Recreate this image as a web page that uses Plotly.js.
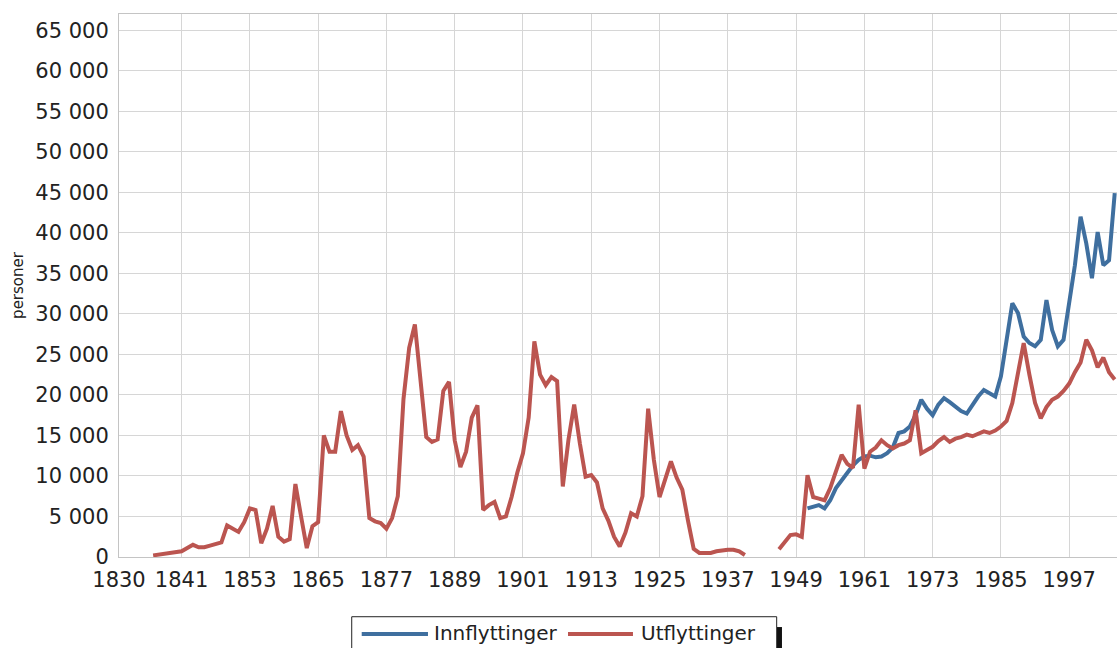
<!DOCTYPE html>
<html>
<head>
<meta charset="utf-8">
<script src="https://cdn.plot.ly/plotly-3.0.1.min.js"></script>
<style>
    html, body { margin: 0; padding: 0; background: #fff; }
    #chart { width: 1117px; height: 648px; }
</style>
</head>
<body>
<div id="chart"></div>
<script>
// Inn- og utflyttinger, personer per år

const utStart = 1836;
const utflyttinger = [
    200, 300, 400, 500, 500, 700, 1100, 1500, 1200, 1200,
    1400, 1600, 1800, 3900, 3500, 3100, 4300, 6000, 5800, 1700,
    3500, 6300, 2500, 1900, 2200, 9000, 5000, 1100, 3800, 4300,
    15000, 13000, 13000, 18000, 15000, 13200, 13800, 12400, 4800, 4400,
    4200, 3500, 4800, 7500, 19500, 25800, 28700, 21500, 14800, 14200,
    14500, 20500, 21600, 14400, 11100, 13000, 17200, 18700, 5800, 6400,
    6800, 4800, 5000, 7400, 10400, 12800, 17200, 26600, 22500, 21200,
    22200, 21700, 8700, 14500, 18800, 14000, 9900, 10100, 9200, 6000,
    4500, 2500, 1300, 3000, 5400, 5000, 7500, 18300, 12000, 7400,
    9500, 11800, 9800, 8300, 4500, 1000, 500, 450, 500, 700,
    850, 900, 900, 700, 250, null, null, null, null, null,
    950, 1900, 2700, 2800, 2500, 10100, 7400, 7200, 7000, 8500,
    10500, 12600, 11500, 11000, 18800, 10900, 13000, 13500, 14400, 13800,
    13400, 13800, 14000, 14400, 18100, 12800, 13200, 13600, 14300, 14800,
    14200, 14600, 14800, 15100, 14900, 15200, 15500, 15300, 15600, 16100,
    16800, 19000, 22500, 26400, 22500, 19000, 17100, 18500, 19400, 19800,
    20500, 21400, 22800, 24000, 26800, 25500, 23400, 24600, 22800, 21900
];

const innStart = 1951;
const innflyttinger = [
    6000, 6200, 6400, 6000, 7000,
    8500, 9500, 10400, 11300, 12000, 12400, 12500, 12300, 12400, 12800,
    13500, 15300, 15500, 16100, 17500, 19400, 18300, 17500, 18800, 19600,
    19100, 18600, 18000, 17700, 18800, 19800, 20600, 20200, 19800, 22300,
    26500, 31300, 30100, 27200, 26400, 26000, 26800, 31700, 28000, 26000,
    26800, 31500, 36000, 42000, 38700, 34400, 40100, 36000, 36600, 44900
];

const tickYears = [1830, 1841, 1853, 1865, 1877, 1889, 1901, 1913, 1925, 1937, 1949, 1961, 1973, 1985, 1997];
const tickLabels = ['1830', '1841', '1853', '1865', '1877', '1889', '1901', '1913', '1925', '1937', '1949', '1961', '1973', '1985', '1997'];

const seriesNames = ['Innflyttinger', 'Utflyttinger'];
const blue = '#3f6f9f';
const red = '#bb5550';
const gridColor = '#d6d6d6';
const textColor = '#222222';

const traces = [
    {
        type: 'scatter', mode: 'lines', name: seriesNames[0],
        x0: innStart, dx: 1, y: innflyttinger,
        line: { color: blue, width: 4 }, connectgaps: false
    },
    {
        type: 'scatter', mode: 'lines', name: seriesNames[1],
        x0: utStart, dx: 1, y: utflyttinger,
        line: { color: red, width: 4 }, connectgaps: false
    }
];

// legend drawn by hand: framed box with a dark shadow on the right
const legendShapes = [
    { type: 'rect', xref: 'paper', yref: 'paper', x0: 0.6593, x1: 0.6643, y0: -0.129, y1: -0.175,
      line: { width: 0 }, fillcolor: '#111111' },
    { type: 'rect', xref: 'paper', yref: 'paper', x0: 0.2332, x1: 0.659, y0: -0.110, y1: -0.175,
      line: { color: '#222222', width: 1 }, fillcolor: '#ffffff' },
    { type: 'line', xref: 'paper', yref: 'paper', x0: 0.2432, x1: 0.3096, y0: -0.1418, y1: -0.1418,
      line: { color: blue, width: 4 } },
    { type: 'line', xref: 'paper', yref: 'paper', x0: 0.4499, x1: 0.515, y0: -0.1418, y1: -0.1418,
      line: { color: red, width: 4 } }
];

const legendLabels = [
    { text: seriesNames[0], x: 0.3136 },
    { text: seriesNames[1], x: 0.5211 }
].map(l => ({
    text: l.text, xref: 'paper', yref: 'paper', x: l.x, y: -0.140,
    xanchor: 'left', yanchor: 'middle', showarrow: false,
    font: { family: 'DejaVu Sans', size: 20, color: textColor }
}));

const layout = {
    width: 1117,
    height: 648,
    margin: { l: 119, r: 0, t: 14, b: 91 },
    paper_bgcolor: '#ffffff',
    plot_bgcolor: '#ffffff',
    showlegend: false,
    separators: ', ',
    font: { family: 'DejaVu Sans', color: textColor },
    xaxis: {
        range: [1830, 2005.4],
        tickmode: 'array',
        tickvals: tickYears,
        ticktext: tickLabels,
        tickfont: { size: 21, color: textColor },
        showgrid: true, gridcolor: gridColor, gridwidth: 1,
        showline: true, linecolor: '#c4c4c4', linewidth: 1, mirror: true,
        zeroline: false, ticks: '', ticklabelstandoff: 4
    },
    yaxis: {
        range: [0, 67000],
        dtick: 5000,
        tickformat: ',d',
        tickfont: { size: 21, color: textColor },
        showgrid: true, gridcolor: gridColor, gridwidth: 1,
        showline: true, linecolor: '#c4c4c4', linewidth: 1, mirror: true,
        zeroline: false, ticks: '', ticklabelstandoff: 5,
        title: { text: 'personer', font: { size: 15, color: textColor }, standoff: 8 }
    },
    shapes: legendShapes,
    annotations: legendLabels
};

Plotly.newPlot('chart', traces, layout, { displayModeBar: false, staticPlot: true });
</script>
</body>
</html>
